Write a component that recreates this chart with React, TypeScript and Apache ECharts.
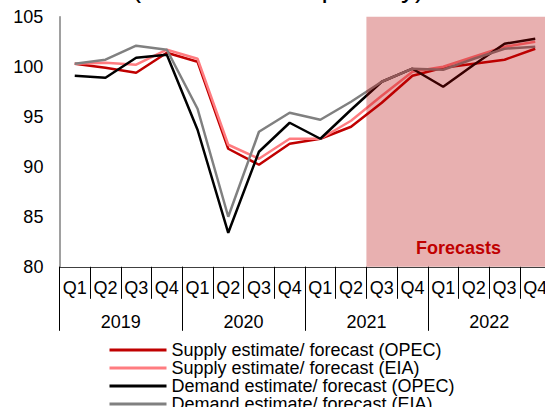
import React, { useEffect, useRef } from "react";
import * as echarts from "echarts";

const quarters = ["Q1", "Q2", "Q3", "Q4", "Q1", "Q2", "Q3", "Q4", "Q1", "Q2", "Q3", "Q4", "Q1", "Q2", "Q3", "Q4"];
const years = ["2019", "2020", "2021", "2022"];
const supplyOPEC = [100.3, 99.9, 99.4, 101.4, 100.5, 91.8, 90.2, 92.3, 92.8, 94.0, 96.4, 99.1, 99.9, 100.3, 100.7, 101.8];
const supplyEIA = [100.3, 100.4, 100.2, 101.7, 100.8, 92.2, 90.8, 92.8, 92.8, 94.6, 97.1, 99.5, 100.0, 101.0, 102.0, 102.5];
const demandOPEC = [99.1, 98.9, 100.9, 101.2, 93.7, 83.4, 91.5, 94.4, 92.8, 95.7, 98.5, 99.8, 98.0, 100.2, 102.3, 102.8];
const demandEIA = [100.3, 100.7, 102.1, 101.7, 95.8, 85.0, 93.5, 95.4, 94.7, 96.5, 98.5, 99.8, 99.7, 100.8, 101.8, 102.0];
const seriesNames = [
  "Supply estimate/ forecast (OPEC)",
  "Supply estimate/ forecast (EIA)",
  "Demand estimate/ forecast (OPEC)",
  "Demand estimate/ forecast (EIA)",
];
const forecastStart = 10;
const titleText = "(million barrels per day)";
const forecastLabel = "Forecasts";

export default function App() {
  const ref = useRef<HTMLDivElement>(null);
  useEffect(() => {
    if (!ref.current) return;
    const chart = echarts.init(ref.current, null, { renderer: "svg" });
    const font = "'Liberation Sans', Arial, sans-serif";
    const colors = ["#C00000", "#FF7C80", "#000000", "#808080"];
    const datas = [supplyOPEC, supplyEIA, demandOPEC, demandEIA];
    chart.setOption({
      animation: false,
      textStyle: { fontFamily: font },
      graphic: [
        {
          type: "text",
          x: 278,
          y: -13,
          style: {
            text: titleText,
            font: `28px ${font}`,
            fill: "#000",
            textAlign: "center",
            textVerticalAlign: "middle",
          },
        },
      ],
      grid: { left: 59.4, right: 0.4, top: 16.7, bottom: 140.2, containLabel: false },
      legend: {
        data: seriesNames,
        orient: "horizontal",
        left: 109.5,
        top: 341,
        width: 360,
        icon: "rect",
        itemWidth: 57,
        itemHeight: 3,
        itemGap: 0,
        padding: 0,
        textStyle: { fontSize: 18, color: "#000", fontFamily: font, lineHeight: 18 },
      },
      xAxis: [
        {
          type: "category",
          data: quarters,
          position: "bottom",
          boundaryGap: true,
          axisLine: { show: true, lineStyle: { color: "#404040", width: 1 } },
          axisTick: { show: true, interval: 0, length: 32, lineStyle: { color: "#000", width: 1 } },
          axisLabel: { interval: 0, fontSize: 18, color: "#000", margin: 12, lineHeight: 18, fontFamily: font },
          splitLine: { show: false },
        },
        {
          type: "category",
          data: years,
          position: "bottom",
          boundaryGap: true,
          axisLine: { show: false },
          axisTick: { show: true, interval: 0, length: 64, lineStyle: { color: "#000", width: 1 } },
          axisLabel: { interval: 0, fontSize: 18, color: "#000", margin: 46, lineHeight: 18, fontFamily: font },
          splitLine: { show: false },
        },
        {
          type: "value",
          show: false,
          position: "top",
          min: 0,
          max: quarters.length,
        },
      ],
      yAxis: {
        type: "value",
        min: 80,
        max: 105,
        interval: 5,
        axisLine: { show: true, lineStyle: { color: "#808080", width: 1.5 } },
        axisTick: { show: false },
        splitLine: { show: false },
        axisLabel: { fontSize: 18, color: "#000", margin: 16, fontFamily: font },
      },
      series: [
        ...datas.map((d, i) => ({
          name: seriesNames[i],
          type: "line",
          data: d,
          xAxisIndex: 0,
          symbol: "none",
          z: 2,
          lineStyle: { color: colors[i], width: 2.5 },
          itemStyle: { color: colors[i] },
        })),
        {
          name: "forecastShade",
          type: "custom",
          xAxisIndex: 2,
          z: 10,
          silent: true,
          clip: false,
          data: [[forecastStart, quarters.length]],
          renderItem: (params: any, api: any) => {
            const tl = api.coord([api.value(0), 105]);
            const br = api.coord([api.value(1), 80]);
            return {
              type: "group",
              children: [
                {
                  type: "rect",
                  shape: { x: tl[0], y: tl[1], width: br[0] - tl[0], height: br[1] - tl[1] },
                  style: { fill: "rgba(182,0,0,0.31)" },
                },
                {
                  type: "text",
                  style: {
                    text: forecastLabel,
                    x: (tl[0] + br[0]) / 2,
                    y: br[1] - 10,
                    textAlign: "center",
                    textVerticalAlign: "bottom",
                    font: `bold 18px ${font}`,
                    fill: "#C00000",
                  },
                },
              ],
            };
          },
        },
      ],
    });
    return () => chart.dispose();
  }, []);
  return (
    <div style={{ position: "absolute", left: 0, top: 0, width: 545, height: 407, overflow: "hidden" }}>
      <div ref={ref} style={{ width: 551, height: 407 }} />
    </div>
  );
}
